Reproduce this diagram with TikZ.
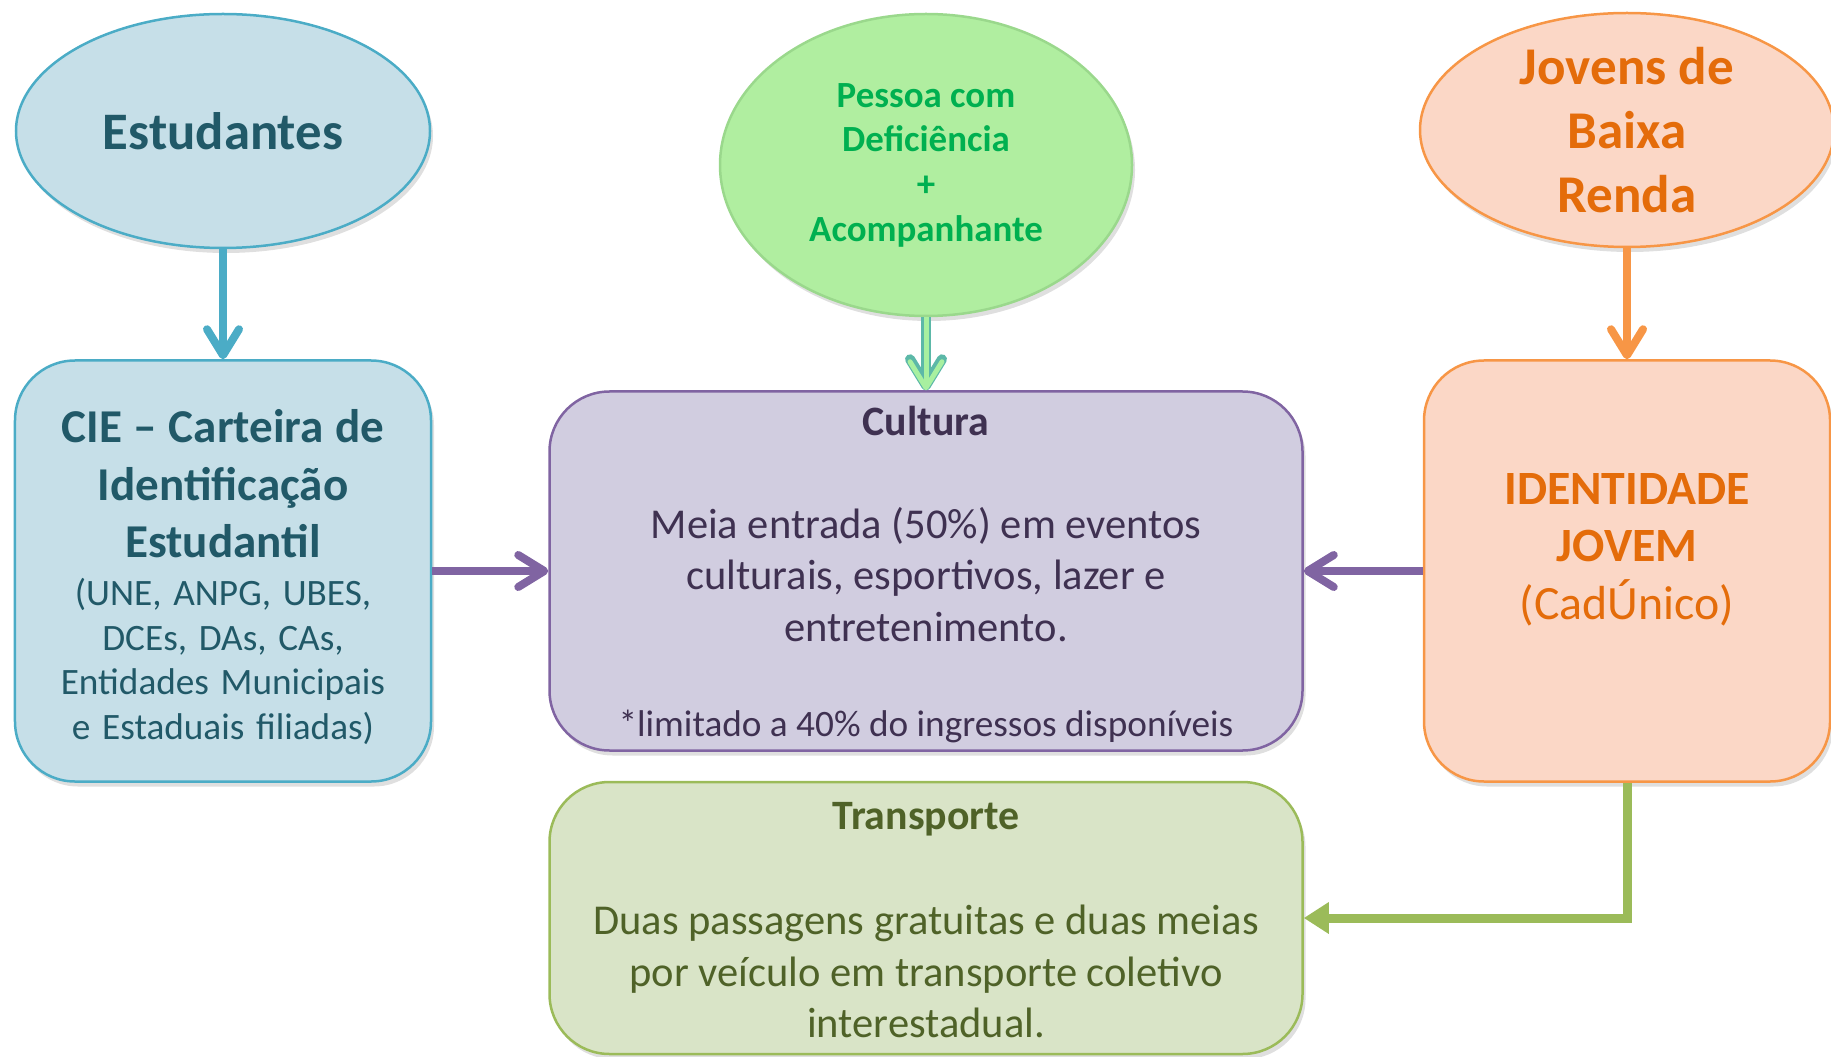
\documentclass[tikz,border=0pt]{standalone}
\usepackage{fontspec}
\setmainfont{Carlito}
\usetikzlibrary{shapes.geometric}
\usetikzlibrary{arrows.meta}
\usetikzlibrary{shadows}
\definecolor{estfill}{HTML}{C6DFE8}
\definecolor{estline}{HTML}{4BACC6}
\definecolor{esttext}{HTML}{215968}
\definecolor{pcdfill}{HTML}{B0EEA0}
\definecolor{pcdline}{HTML}{9AD88C}
\definecolor{pcdtext}{HTML}{00B050}
\definecolor{pcdarrow}{HTML}{5CB8A8}
\definecolor{pcdarrowfill}{HTML}{A8F0A0}
\definecolor{jovfill}{HTML}{FBD7C6}
\definecolor{jovline}{HTML}{F79646}
\definecolor{jovtext}{HTML}{E46C0A}
\definecolor{culfill}{HTML}{D1CDE0}
\definecolor{culline}{HTML}{8064A2}
\definecolor{cultext}{HTML}{3F3151}
\definecolor{trafill}{HTML}{D9E4C7}
\definecolor{traline}{HTML}{9BBB59}
\definecolor{tratext}{HTML}{4F6228}

\begin{document}
\begin{tikzpicture}
	    [oval/.style={ellipse, draw, line width=0.025cm, inner sep=0pt, align=center,
	      drop shadow={shadow xshift=0.03cm, shadow yshift=-0.05cm, opacity=0.25}},
	    card/.style={rectangle, rounded corners=0.6cm, draw, line width=0.025cm, inner sep=0pt,
	      drop shadow={shadow xshift=0.03cm, shadow yshift=-0.05cm, opacity=0.25}},
	    chev/.style={line width=0.08cm, -{Straight Barb[length=2.6mm, width=3.2mm, round]}},
	    trail/.style={line width=0.09cm, traline, -{Triangle[length=2.5mm, width=3mm]}},
	    title/.style={font=\fontsize{11.9}{14}\selectfont\bfseries},
	    body/.style={align=center, font=\fontsize{12.1}{14.6}\selectfont}]
	     \useasboundingbox (0,0) rectangle (18.31,10.56);
	     % top row
	     \node[oval, fill=estfill, draw=estline, text=esttext, minimum width=4.14cm, minimum height=2.34cm,
	       font=\fontsize{15}{18}\selectfont\bfseries] (estud) at (2.23, 9.25) {Estudantes};
	     \node[oval, fill=pcdfill, draw=pcdline, text=pcdtext, minimum width=4.12cm, minimum height=3.02cm,
	       font=\fontsize{10.5}{12.7}\selectfont\bfseries] (pcd) at (9.26, 8.91) {Pessoa com\\Deficiência\\+\\Acompanhante};
	     \node[oval, fill=jovfill, draw=jovline, text=jovtext, minimum width=4.14cm, minimum height=2.34cm,
	       font=\fontsize{15.1}{18.1}\selectfont\bfseries] (jov) at (16.27, 9.26) {Jovens de\\Baixa\\Renda};
	     % cards
	     \node[card, fill=estfill, draw=estline, text=esttext, minimum width=4.16cm, minimum height=4.21cm,
	       text width=4.0cm, align=center] (cie) at (2.23, 4.85)
	       {{\fontsize{13.4}{16.4}\selectfont\bfseries CIE -- Carteira de\\Identificação\\Estudantil\par}\vspace{0.85pt}
	        {\fontsize{10.6}{12.7}\selectfont (UNE, ANPG, UBES,\\DCEs, DAs, CAs,\\Entidades Municipais\\e Estaduais filiadas)\par}\vspace{-0.12cm}};
	     \node[card, fill=culfill, draw=culline, minimum width=7.53cm, minimum height=3.59cm] (cult) at (9.26, 4.85) {};
	     \node[card, fill=trafill, draw=traline, minimum width=7.53cm, minimum height=2.72cm] (transp) at (9.26, 1.38) {};
	     \node[card, fill=jovfill, draw=jovline, minimum width=4.06cm, minimum height=4.21cm] (ident) at (16.27, 4.85) {};
	     % card texts
	     \node[title, text=cultext] (cult-t) at (9.26, 6.35) {Cultura};
	     \node[body, text=cultext] (cult-b) at (9.26, 4.815) {Meia entrada (50\%) em eventos\\culturais, esportivos, lazer e\\entretenimento.};
	     \node[text=cultext, font=\fontsize{10.6}{12.7}\selectfont] (cult-n) at (9.26, 3.30) {*limitado a 40\% do ingressos disponíveis};
	     \node[title, text=tratext] (transp-t) at (9.26, 2.37) {Transporte};
	     \node[body, text=tratext] (transp-b) at (9.26, 0.845) {Duas passagens gratuitas e duas meias\\por veículo em transporte coletivo\\interestadual.};
	     \node[align=center, text=jovtext, font=\fontsize{13.6}{16.3}\selectfont] (ident-t) at (16.27, 5.063)
	       {\textbf{IDENTIDADE}\\\textbf{JOVEM}\\(CadÚnico)};
	     % connectors
	     \draw[chev, estline] (estud) -- (cie);
	     \draw[chev, pcdarrow, line width=0.1cm] (pcd) -- (cult);
	     \draw[chev, pcdarrowfill, line width=0.05cm] (pcd) -- (cult);
	     \draw[chev, jovline] (jov) -- (ident);
	     \draw[chev, culline] (cie) -- (cult);
	     \draw[chev, culline] (ident) -- (cult);
	     \draw[trail] (ident.south) |- (transp.east);
	\end{tikzpicture}
\end{document}
